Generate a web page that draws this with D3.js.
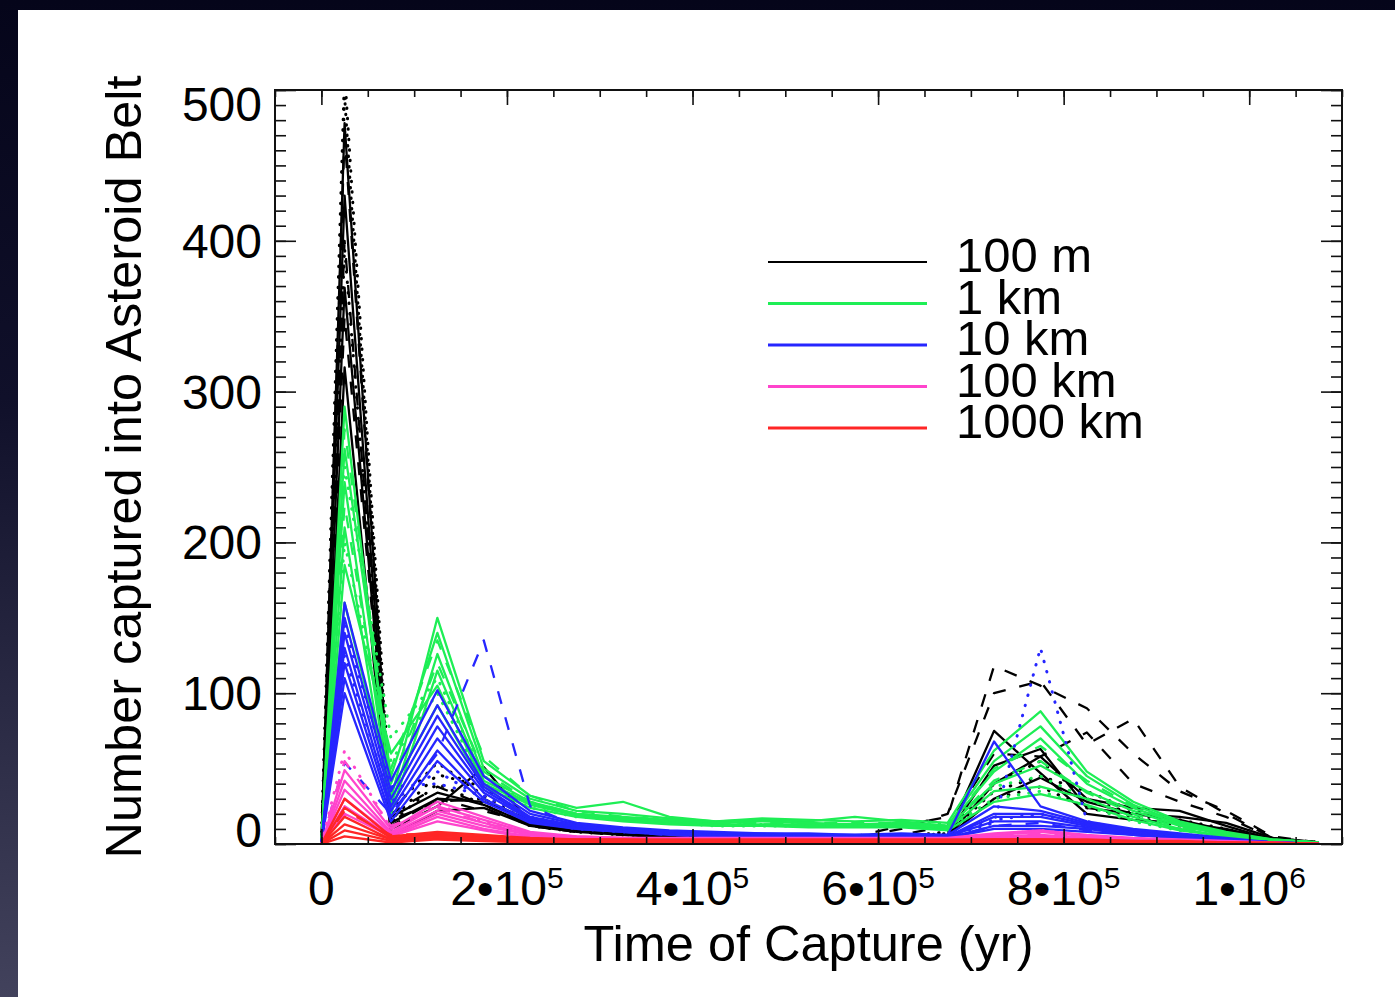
<!DOCTYPE html>
<html>
<head>
<meta charset="utf-8">
<script src="https://cdn.jsdelivr.net/npm/d3@7"></script>
<style>
html, body { margin: 0; padding: 0; width: 1395px; height: 997px; overflow: hidden;
  background: linear-gradient(#05051a, #10102a 40%, #42425c); }
svg { display: block; }
text { font-family: "Liberation Sans", Arial, Helvetica, sans-serif; fill: #000; }
</style>
</head>
<body>
<svg id="chart" width="1395" height="997"></svg>
<script>
// bin centres (yr), first point is the start at zero
const timeYr = [0, 25000, 75000, 125000, 175000, 225000, 275000, 325000, 375000, 425000, 475000,
  525000, 575000, 625000, 675000, 725000, 775000, 825000, 875000, 925000, 975000, 1025000, 1075000];

const sizeLabels = ["100 m", "1 km", "10 km", "100 km", "1000 km"];

const yTicks = [0, 100, 200, 300, 400, 500];
const xTicks = [0, 200000, 400000, 600000, 800000, 1000000];
const xTickBase = ["0", "2\u202210", "4\u202210", "6\u202210", "8\u202210", "1\u202210"];
const xTickExp = ["", "5", "5", "5", "5", "6"];

// 100 m runs
const runs100m = [
  [0,478,14,30,28,16,10,7,6,5,5,4,4,5,6,75,47,20,16,14,10,3,1],
  [0,430,10,25,51,14,9,7,6,5,4,4,4,4,6,52,63,24,20,18,14,4,1],
  [0,369,18,34,26,13,9,7,5,5,4,4,4,4,5,40,58,30,24,22,12,3,1],
  [0,316,5,22,24,12,8,6,4,4,4,3,4,4,5,30,44,28,20,16,9,3,1],
  [0,470,16,28,30,15,10,8,6,5,5,4,5,12,18,118,105,90,60,35,22,5,1],
  [0,400,12,30,22,14,9,7,6,5,4,4,4,10,20,100,108,66,83,38,20,4,1],
  [0,350,20,38,26,12,8,6,5,4,4,4,4,6,12,60,58,74,40,28,18,4,1],
  [0,512,22,54,32,14,9,7,6,5,4,4,4,5,8,40,55,30,20,14,8,2,1],
  [0,496,16,46,38,16,10,7,6,5,5,4,4,5,7,35,45,35,22,16,10,3,1],
  [0,395,14,40,26,12,8,6,5,4,4,4,4,5,6,30,38,24,18,12,8,2,1]
];
const kind100m = ["solid","solid","solid","solid","dashed","dashed","dashed","dotted","dotted","dotted"];

// 1 km runs
const runs1km = [
  [0,290,30,150,55,32,24,28,18,15,17,16,15,16,14,62,88,48,28,15,8,3,1],
  [0,262,45,140,50,30,22,20,17,15,16,15,18,15,12,55,78,45,26,14,7,3,1],
  [0,240,25,126,45,28,20,18,16,14,15,14,13,14,12,48,70,40,24,13,7,2,1],
  [0,210,20,115,42,27,20,17,15,13,13,13,13,13,11,40,52,35,22,12,6,2,1],
  [0,185,60,105,40,26,19,16,14,13,12,12,12,12,10,35,38,30,18,10,5,2,1],
  [0,160,35,92,38,24,18,15,13,12,12,11,11,11,9,28,33,26,16,9,5,2,1],
  [0,275,50,135,58,32,22,18,16,14,14,14,14,14,12,50,65,42,25,13,7,2,1],
  [0,225,40,120,48,28,20,17,15,13,13,13,13,13,11,42,55,34,20,11,6,2,1],
  [0,250,70,110,45,27,20,17,15,13,13,13,13,13,14,38,45,30,18,10,5,2,1],
  [0,200,55,100,40,24,18,16,14,12,12,12,12,12,11,30,35,25,15,9,5,2,1]
];
const kind1km = ["solid","solid","solid","solid","solid","solid","dashed","dashed","dotted","dotted"];

// 10 km runs
const runs10km = [
  [0,160,42,102,45,22,14,11,9,8,7,7,6,7,6,68,25,15,10,7,4,1,0],
  [0,150,35,92,40,20,13,10,8,7,7,6,6,6,6,25,22,14,9,6,3,1,0],
  [0,140,30,85,38,18,12,10,8,7,6,6,6,6,5,20,20,13,9,6,3,1,0],
  [0,130,25,78,36,17,12,9,8,6,6,6,5,6,5,18,18,12,8,5,3,1,0],
  [0,120,22,70,34,16,11,9,7,6,6,5,5,5,5,15,15,11,7,5,2,1,0],
  [0,110,18,62,30,15,10,8,7,6,5,5,5,5,4,12,12,10,6,4,2,1,0],
  [0,100,15,55,28,14,10,8,6,5,5,5,4,5,4,10,10,8,6,4,2,1,0],
  [0,54,20,60,135,25,12,8,6,5,5,4,4,5,4,12,14,9,6,4,2,1,0],
  [0,125,28,48,30,15,10,8,7,6,5,5,5,5,5,14,130,15,8,5,3,1,0],
  [0,145,38,40,32,18,12,9,7,6,6,5,5,6,5,16,20,12,8,5,2,1,0]
];
const kind10km = ["solid","solid","solid","solid","solid","solid","solid","dashed","dotted","dotted"];

// 100 km runs
const runs100km = [
  [0,49,10,28,18,8,5,4,4,4,4,4,4,4,4,7,9,6,4,3,2,1,0],
  [0,42,8,25,16,7,5,4,3,3,3,3,3,3,3,6,8,5,3,2,1,0,0],
  [0,36,7,22,14,6,4,3,3,3,3,3,3,3,3,5,6,4,3,2,1,0,0],
  [0,30,6,20,12,6,4,3,3,2,2,2,2,2,2,4,5,4,2,1,1,0,0],
  [0,25,5,18,10,5,3,3,2,2,2,2,2,2,2,4,5,3,2,1,1,0,0],
  [0,20,5,15,9,4,3,2,2,2,2,2,2,2,2,3,4,3,2,1,0,0,0],
  [0,62,10,26,15,7,4,3,3,3,3,3,3,3,3,6,9,5,3,2,1,0,0],
  [0,55,12,24,14,6,4,3,3,3,3,3,3,3,3,5,7,4,3,2,1,0,0]
];
const kind100km = ["solid","solid","solid","solid","solid","solid","dotted","dashed"];

// 1000 km runs
const runs1000km = [
  [0,30,5,8,6,4,3,3,3,3,3,3,3,3,3,3,3,3,2,2,1,1,0],
  [0,24,4,7,5,3,3,3,2,2,2,2,2,2,2,3,3,2,2,1,1,0,0],
  [0,18,3,6,4,3,2,2,2,2,2,2,2,2,2,2,2,2,1,1,1,0,0],
  [0,13,3,5,4,2,2,2,2,2,2,2,2,2,2,2,2,2,1,1,0,0,0],
  [0,9,2,4,3,2,2,1,1,1,1,1,1,1,1,2,2,1,1,1,0,0,0],
  [0,5,1,3,2,1,1,1,1,1,1,1,1,1,1,1,1,1,1,0,0,0,0],
  [0,22,6,7,5,3,2,2,2,2,2,2,2,2,2,2,2,2,1,1,1,0,0]
];
const kind1000km = ["solid","solid","solid","solid","solid","solid","dashed"];

const groups = [
  { runs: runs100m,   kinds: kind100m,   color: "#000000" },
  { runs: runs1km,    kinds: kind1km,    color: "#1eee55" },
  { runs: runs10km,   kinds: kind10km,   color: "#2626ff" },
  { runs: runs100km,  kinds: kind100km,  color: "#ff44cc" },
  { runs: runs1000km, kinds: kind1000km, color: "#ff2626" }
];
const dashFor = { solid: null, dashed: "13,14", dotted: "0.5,10" };

const svg = d3.select("#chart");
const box = { left: 275, right: 1342, top: 90, bottom: 844 };

// white slide panel
svg.append("rect").attr("x", 18).attr("y", 10).attr("width", 1395 - 18).attr("height", 997 - 10)
  .attr("fill", "#fff");

const x = d3.scaleLinear().domain([-50000, 1100000]).range([box.left, box.right]);
const y = d3.scaleLinear().domain([0, 500]).range([box.bottom, box.top]);

svg.append("clipPath").attr("id", "plotclip").append("rect")
  .attr("x", box.left).attr("y", box.top)
  .attr("width", box.right - box.left).attr("height", box.bottom - box.top);

const line = d3.line().x((d, i) => x(timeYr[i])).y(d => y(d));

const plot = svg.append("g").attr("clip-path", "url(#plotclip)");
groups.forEach(g => {
  plot.append("g").selectAll("path").data(g.runs).enter().append("path")
    .attr("d", d => line(d))
    .attr("fill", "none")
    .attr("stroke", g.color)
    .attr("stroke-width", (d, i) => g.kinds[i] == "dotted" ? 3 : 2.3)
    .attr("stroke-linejoin", "round")
    .attr("stroke-linecap", (d, i) => g.kinds[i] == "dotted" ? "round" : "butt")
    .attr("stroke-dasharray", (d, i) => dashFor[g.kinds[i]]);
});

// ticks, all pointing inward
const yMinor = d3.range(0, 501, 10);
const xMinor = d3.range(-50000, 1100001, 50000);
function ticks(axis, tx, ty) {
  const a = svg.append("g").attr("transform", "translate(" + tx + "," + ty + ")").call(axis);
  a.select(".domain").remove();
  a.selectAll("line").attr("stroke", "#111").attr("stroke-width", 1.6);
}
ticks(d3.axisLeft(y).tickValues(yMinor).tickSize(-11).tickFormat(""), box.left, 0);
ticks(d3.axisLeft(y).tickValues(yTicks).tickSize(-21).tickFormat(""), box.left, 0);
ticks(d3.axisRight(y).tickValues(yMinor).tickSize(-11).tickFormat(""), box.right, 0);
ticks(d3.axisRight(y).tickValues(yTicks).tickSize(-21).tickFormat(""), box.right, 0);
ticks(d3.axisTop(x).tickValues(xMinor).tickSize(-7).tickFormat(""), 0, box.top);
ticks(d3.axisTop(x).tickValues(xTicks).tickSize(-15).tickFormat(""), 0, box.top);
ticks(d3.axisBottom(x).tickValues(xMinor).tickSize(-7).tickFormat(""), 0, box.bottom);
ticks(d3.axisBottom(x).tickValues(xTicks).tickSize(-15).tickFormat(""), 0, box.bottom);

svg.append("rect").attr("x", box.left).attr("y", box.top)
  .attr("width", box.right - box.left).attr("height", box.bottom - box.top)
  .attr("fill", "none").attr("stroke", "#111").attr("stroke-width", 2);

// y tick labels (end labels pulled inside a little, as in the figure)
svg.append("g").selectAll("text").data(yTicks).enter().append("text")
  .attr("x", 262)
  .attr("y", d => y(d) + 17 + (d == 0 ? -14 : d == 500 ? 14 : 0))
  .attr("text-anchor", "end").attr("font-size", 48)
  .text(d => d);

// x tick labels with superscript exponents
const xl = svg.append("g").selectAll("text").data(xTicks).enter().append("text")
  .attr("x", d => x(d)).attr("y", 905)
  .attr("text-anchor", "middle").attr("font-size", 48);
xl.append("tspan").text((d, i) => xTickBase[i]);
xl.append("tspan").attr("dy", -17).attr("font-size", 30).text((d, i) => xTickExp[i]);

svg.append("text").attr("x", (box.left + box.right) / 2).attr("y", 961)
  .attr("text-anchor", "middle").attr("font-size", 50.5)
  .text("Time of Capture (yr)");

svg.append("text")
  .attr("transform", "translate(141," + (box.top + box.bottom) / 2 + ") rotate(-90)")
  .attr("text-anchor", "middle").attr("font-size", 50.5)
  .text("Number captured into Asteroid Belt");

// legend
const leg = svg.append("g").selectAll("g").data(sizeLabels).enter().append("g")
  .attr("transform", (d, i) => "translate(0," + (262 + i * 41.5) + ")");
leg.append("line").attr("x1", 768).attr("x2", 927)
  .attr("stroke", (d, i) => groups[i].color).attr("stroke-width", (d, i) => i == 0 ? 2 : 3);
leg.append("text").attr("x", 956).attr("y", 10).attr("font-size", 49).text(d => d);
</script>
</body>
</html>
